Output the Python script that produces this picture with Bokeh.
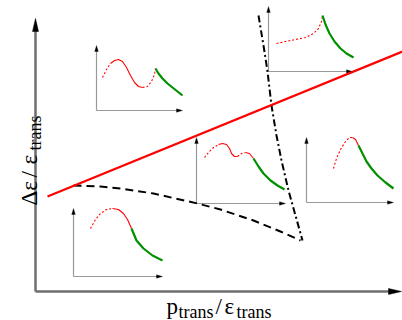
from math import pi
from bokeh.plotting import figure
from bokeh.models import Range1d
from bokeh.core.properties import value
from bokeh.embed import file_html
from bokeh.resources import INLINE

# ---- main axes (origin, tips) ----
main_origin = (35, 291)
main_ytip = 18
main_xtip = 401

# ---- main red boundary line ----
red_line_x = [47, 402]
red_line_y = [196, 51]

# ---- dashed black curve ----
dash_x = [73, 100, 120, 153, 197, 220, 253, 280, 300]
dash_y = [185, 186, 188, 193, 203, 209, 220, 231, 240]

# ---- dash-dot black curve ----
dd_x = [258, 263, 267, 271, 276, 281, 288, 295, 302]
dd_y = [15, 45, 71, 105, 135, 160, 190, 215, 240]

# ---- inset axes ----
inset_x0 = [96, 196, 306, 268, 73]
inset_y0 = [110, 203, 202, 71, 276]
inset_ytip = [45, 137, 137, 6, 208]
inset_xtip = [182, 285, 393, 352, 162]

# ---- inset curves: red dashed / red solid / green ----
red_dashed = [
    ([102, 106, 110], [77, 69, 63]),
    ([142, 147, 151, 154, 155], [87, 86, 81, 74, 68]),
    ([204, 208, 213, 218], [157, 152, 147, 144]),
    ([237, 241, 245], [156, 153, 152]),
    ([333, 336, 340, 345, 349, 352], [168, 158, 149, 141, 137, 137]),
    ([276, 285, 295, 305, 313, 318, 321, 322], [43, 41, 39, 37, 33, 28, 21, 15]),
    ([90, 95, 100, 106, 112], [228, 219, 213, 209, 208]),
]
red_solid = [
    ([110, 114, 118, 122, 126, 130, 134, 138, 142], [63, 60, 59, 61, 67, 75, 82, 86, 87]),
    ([218, 222, 226, 229, 231, 234, 237], [144, 143, 144, 148, 153, 156, 156]),
    ([245, 249, 253], [152, 153, 158]),
    ([352, 355, 358], [137, 139, 145]),
    ([112, 118, 123, 127, 131], [208, 209, 213, 219, 228]),
]
green = [
    ([155, 158, 162, 167, 172, 177, 182], [68, 73, 78, 83, 87, 91, 95]),
    ([253, 258, 263, 270, 277, 284], [158, 166, 173, 180, 185, 189]),
    ([358, 362, 366, 371, 377, 385, 393], [145, 153, 161, 168, 175, 182, 188]),
    ([322, 325, 329, 334, 340, 346, 353], [15, 24, 33, 41, 48, 53, 57]),
    ([131, 136, 143, 152, 162], [228, 240, 248, 255, 260]),
]

RED = "#ff0000"
GREEN = "#009000"

p = figure(width=402, height=320, x_range=Range1d(0, 402), y_range=Range1d(320, 0),
           output_backend="svg", toolbar_location=None, min_border=0,
           x_axis_type=None, y_axis_type=None)
p.grid.visible = False
p.outline_line_color = None
p.background_fill_color = "white"


def head(tx, ty, dx, dy, L, w):
    # triangle arrow head with tip at (tx,ty) pointing along (dx,dy)
    bx, by = tx - dx * L, ty - dy * L
    px, py = -dy * w, dx * w
    return [tx, bx + px, bx - px], [ty, by + py, by - py]


# main axes
ox, oy = main_origin
p.line([ox, ox], [oy, main_ytip + 6], line_color="#6e6e6e", line_width=2.5)
p.line([ox, main_xtip - 6], [oy, oy], line_color="#6e6e6e", line_width=2.5)
hx, hy = head(ox, main_ytip, 0, -1, 13, 3)
p.patch(hx, hy, fill_color="black", line_color="black", line_width=0.5)
hx, hy = head(main_xtip, oy, 1, 0, 13, 3)
p.patch(hx, hy, fill_color="black", line_color="black", line_width=0.5)

# inset axes
for x0, y0, yt, xt in zip(inset_x0, inset_y0, inset_ytip, inset_xtip):
    p.line([x0, x0], [y0, yt + 3], line_color="#999999", line_width=1.2)
    p.line([x0, xt - 3], [y0, y0], line_color="#999999", line_width=1.2)
    hx, hy = head(x0, yt, 0, -1, 6, 1.8)
    p.patch(hx, hy, fill_color="black", line_color="black", line_width=0.3)
    hx, hy = head(xt, y0, 1, 0, 6, 1.8)
    p.patch(hx, hy, fill_color="black", line_color="black", line_width=0.3)

# inset curves
for xs, ys in red_dashed:
    p.line(xs, ys, line_color=RED, line_width=1.1, line_dash="2 2")
for xs, ys in red_solid:
    p.line(xs, ys, line_color=RED, line_width=1.1)
for xs, ys in green:
    p.line(xs, ys, line_color=GREEN, line_width=2.2)

# main curves
p.line(dash_x, dash_y, line_color="black", line_width=2, line_dash="8 5")
p.line(dd_x, dd_y, line_color="black", line_width=2, line_dash="7 3 2 3")
p.line(red_line_x, red_line_y, line_color=RED, line_width=2.2)

SERIF = value("Liberation Serif")
MAIN = "23px"
SUB = "18px"

# x label
xl_text = ["p", "trans", "/", "ε", "trans"]
xl_x = [166, 178, 215, 224, 236]
xl_y = [306, 311, 306, 306, 311]
xl_size = [MAIN, SUB, MAIN, MAIN, SUB]
for t, x, y, s in zip(xl_text, xl_x, xl_y, xl_size):
    p.text([x], [y], text=[t], text_font=SERIF, text_font_size=s, text_color="black",
           text_baseline="alphabetic", text_align="left")

# y label (rotated)
yl_text = ["Δε", "/", "ε", "trans"]
yl_x = [29, 29, 29, 34]
yl_y = [205, 177, 164, 150]
yl_size = [MAIN, MAIN, MAIN, SUB]
for t, x, y, s in zip(yl_text, yl_x, yl_y, yl_size):
    p.text([x], [y], text=[t], text_font=SERIF, text_font_size=s, text_color="black",
           text_baseline="alphabetic", text_align="left", angle=pi / 2)

open("out.html", "w").write(file_html(p, INLINE))
